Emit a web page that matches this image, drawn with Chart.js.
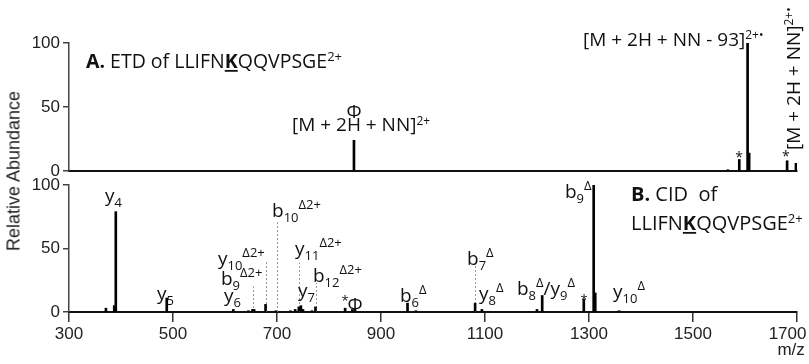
<!DOCTYPE html>
<html><head><meta charset="utf-8">
<script src="https://cdn.jsdelivr.net/npm/chart.js@4.4.0/dist/chart.umd.min.js"></script>
<style>
html,body{margin:0;padding:0;background:#fff;}
#wrap{position:relative;width:809px;height:364px;overflow:hidden;background:#fff;}
#topBox{position:absolute;left:0;top:0;width:809px;height:182px;}
#botBox{position:absolute;left:0;top:174px;width:809px;height:190px;}
#ytitle{position:absolute;left:14px;top:171px;transform:translate(-50%,-50%) rotate(-90deg);font:18px "Liberation Sans",Arial,sans-serif;color:#222;white-space:nowrap;}
</style></head><body>
<div id="wrap">
<div id="topBox"><canvas id="cTop" width="809" height="182"></canvas></div>
<div id="botBox"><canvas id="cBot" width="809" height="190"></canvas></div>
<div id="ytitle">Relative Abundance</div>
</div>
<script>
// ---- data ----
const etdMz        = [848, 1567, 1589, 1605, 1608, 1681, 1698];
const etdAbundance = [24,  1,    9,    100,  14,   8,    6];

const cidMz        = [371, 387, 390, 488, 616, 645, 653, 656, 678, 698, 726, 735, 742, 746, 750, 767, 774, 831, 845, 850, 951, 967, 1081, 1094, 1200, 1210, 1290, 1309, 1312, 1358];
const cidAbundance = [3,   5,   79,  11,  2,   1,   2,   2,   6,   1,   1,   2,   4,   5,   2,   1,   4,   3,   2,   2,   7,   1,   7,    2,    2,    13,   10,   100,  15,   1];

// dotted guide lines of labelled CID ions
const guideMz  = [653, 679, 700, 742, 775, 1081];
const guideTop = [20,  41,  71,  39,  23,  38];

const xTickValues = [300, 500, 700, 900, 1100, 1300, 1500, 1700];
const yTickValues = [0, 50, 100];
const xTitle = 'm/z';

// ---- annotation layout (text, anchor m/z, anchor abundance) ----
const LABEL_FONT = '"Open Sans", "DejaVu Sans", sans-serif';
const AXIS_FONT = '"Liberation Sans", Arial, sans-serif';
const etdLabels = [
  {t:'*{A.} ETD of LLIFN~{K}QQVPSGE^{2+}', x:332.7, y:80.5, size:19.5, supSize:13, supDy:-7},
  {t:'Φ', x:848, y:41.4, align:'center'},
  {t:'[M + 2H + NN]^{2+}', x:728.8, y:31.3, supSize:12, supDy:-6},
  {t:'[M + 2H + NN - 93]^{2+•}', x:1288.5, y:97.7, supSize:12, supDy:-7},
  {t:'[M + 2H + NN]^{2+•}', x:1705.8, y:16.4, supSize:12, supDy:-7, rot:true},
  {t:'*', x:1588.5, y:10.2, align:'center', size:14, middle:true},
  {t:'*', x:1678.8, y:10.9, align:'center', size:14, middle:true}
];
const cidLabels = [
  {t:'y_{4}', x:369.2, y:86.6},
  {t:'y_{5}', x:469.2, y:9.4},
  {t:'y_{6}', x:598.1, y:7.9},
  {t:'b_{9}^{Δ2+}', x:592.3, y:21.3},
  {t:'y_{10}^{Δ2+}', x:586.5, y:37.0},
  {t:'b_{10}^{Δ2+}', x:690.4, y:74.8},
  {t:'y_{11}^{Δ2+}', x:734.6, y:44.9},
  {t:'b_{12}^{Δ2+}', x:769.2, y:23.6},
  {t:'y_{7}', x:740.4, y:11.8},
  {t:'*', x:830.8, y:8.7, align:'center', size:13, middle:true},
  {t:'Φ', x:850, y:1.0, align:'center'},
  {t:'b_{6}^{Δ}', x:936.5, y:7.9},
  {t:'b_{7}^{Δ}', x:1065.4, y:37.0},
  {t:'y_{8}^{Δ}', x:1088.5, y:9.4},
  {t:'b_{8}^{Δ}/y_{9}^{Δ}', x:1161.5, y:13.4},
  {t:'*', x:1290.4, y:9.4, align:'center', size:13, middle:true},
  {t:'b_{9}^{Δ}', x:1253.8, y:89.8},
  {t:'y_{10}^{Δ}', x:1346.2, y:11.0},
  {t:'*{B.} CID  of', x:1380.8, y:87.4, size:20},
  {t:'LLIFN~{K}QQVPSGE^{2+}', x:1380.8, y:64.6, size:20, supSize:13, supDy:-7},
  {t:xTitle, x:1715, y:-34, align:'right', size:17, family:AXIS_FONT, color:'#222'}
];

// ---- rich text helpers ----
function parseRich(s){
  const re = /(_\{[^}]*\}|\^\{[^}]*\}|\*\{[^}]*\}|~\{[^}]*\})/;
  return s.split(re).filter(p => p.length).map(p => {
    const m = p.match(/^([_^*~])\{(.*)\}$/);
    if(!m) return {t:p, k:'n'};
    return {t:m[2], k:{'_':'sub','^':'sup','*':'b','~':'bu'}[m[1]]};
  });
}
function drawRich(ctx, L, x, y){
  const st = Object.assign({size:19, subSize:13, supSize:13, subDy:5, supDy:-8, align:'left', family:LABEL_FONT, color:'#111'}, L);
  const segs = parseRich(L.t);
  const fontFor = k => ((k==='b'||k==='bu') ? 'bold ' : '') +
      (k==='sub' ? st.subSize : k==='sup' ? st.supSize : st.size) + 'px ' + st.family;
  let w = 0;
  segs.forEach(g => { ctx.font = fontFor(g.k); g.w = ctx.measureText(g.t).width; w += g.w; });
  let cx = st.align === 'center' ? x - w/2 : (st.align === 'right' ? x - w : x);
  ctx.textBaseline = st.middle ? 'middle' : 'alphabetic';
  ctx.textAlign = 'left';
  ctx.fillStyle = st.color;
  segs.forEach(g => {
    ctx.font = fontFor(g.k);
    const dy = g.k === 'sub' ? st.subDy : (g.k === 'sup' ? st.supDy : 0);
    ctx.fillText(g.t, cx, y + dy);
    if(g.k === 'bu') ctx.fillRect(cx, y + 2, g.w, 1.8);
    cx += g.w;
  });
}

function annotPlugin(labels, guides){
  return {
    id:'annot',
    beforeDatasetsDraw(chart){
      if(!guides) return;
      const {ctx, scales:{x, y}} = chart;
      ctx.save();
      ctx.strokeStyle = '#9a9a9a';
      ctx.lineWidth = 1;
      ctx.setLineDash([2, 2]);
      guides.mz.forEach((m, i) => {
        const px = Math.round(x.getPixelForValue(m)) + 0.5;
        ctx.beginPath();
        ctx.moveTo(px, y.getPixelForValue(0));
        ctx.lineTo(px, y.getPixelForValue(guides.top[i]));
        ctx.stroke();
      });
      ctx.restore();
    },
    afterDraw(chart){
      const {ctx, scales:{x, y}} = chart;
      ctx.save();
      labels.forEach(L => {
        const px = x.getPixelForValue(L.x), py = y.getPixelForValue(L.y);
        if(L.rot){
          ctx.save(); ctx.translate(px, py); ctx.rotate(-Math.PI/2);
          drawRich(ctx, L, 0, 0); ctx.restore();
        } else drawRich(ctx, L, px, py);
      });
      ctx.restore();
    }
  };
}

function makeOptions(isTop){
  const tickFont = {family:AXIS_FONT, size:17};
  const last = xTickValues[xTickValues.length-1];
  return {
    responsive:false, animation:false, events:[],
    layout:{padding:{top: isTop ? 43 : 11, right:12, left:0, bottom:0}},
    plugins:{legend:{display:false}, tooltip:{enabled:false}},
    scales:{
      x:{
        type:'linear', min:xTickValues[0], max:last, offset:false,
        afterBuildTicks: s => { s.ticks = xTickValues.map(v => ({value:v})); },
        grid:{display:true, drawOnChartArea:false, drawTicks:!isTop, tickLength:10, color:'#333', lineWidth:1.5, offset:false},
        border:{display:true, color:'#111', width:2},
        ticks:{display:!isTop, padding:2, color:'#222', font:tickFont, maxRotation:0, autoSkip:false,
               // keep the last label inside the page, as in the reference
               callback: v => v === last ? String(v) + '    ' : String(v)},
        afterFit: s => { s.height = isTop ? 11 : 52; s.paddingLeft = 0; s.paddingRight = 0; }
      },
      y:{
        min:0, max:100,
        afterBuildTicks: s => { s.ticks = yTickValues.map(v => ({value:v})); },
        grid:{drawOnChartArea:false, drawTicks:true, tickLength:6, color:'#444', lineWidth:1.5},
        border:{display:true, color:'#444', width:1.5},
        ticks:{padding:3, color:'#222', font:tickFont, callback: v => String(v)},
        afterFit: s => { s.width = 69; s.paddingTop = 0; s.paddingBottom = 0; }
      }
    }
  };
}

function stickDataset(mz, ab){
  return {
    data: mz.map((m, i) => ({x:m, y:ab[i]})),
    backgroundColor:'#000', borderWidth:0, barThickness:2, grouped:false
  };
}

new Chart(document.getElementById('cTop'), {
  type:'bar',
  data:{datasets:[stickDataset(etdMz, etdAbundance)]},
  options:makeOptions(true),
  plugins:[annotPlugin(etdLabels, null)]
});
new Chart(document.getElementById('cBot'), {
  type:'bar',
  data:{datasets:[stickDataset(cidMz, cidAbundance)]},
  options:makeOptions(false),
  plugins:[annotPlugin(cidLabels, {mz:guideMz, top:guideTop})]
});
</script>
</body></html>
